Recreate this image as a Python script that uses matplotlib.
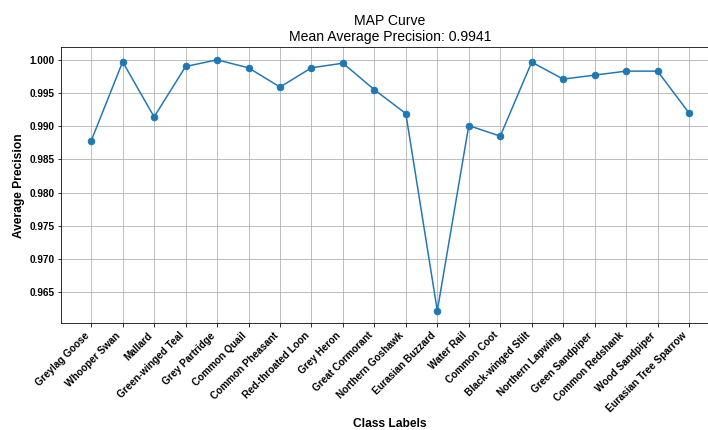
import numpy as np
import matplotlib.pyplot as plt

plt.rcParams['font.family'] = ['Liberation Sans', 'DejaVu Sans']

# class names and their average precision values
classes = ['Greylag Goose', 'Whooper Swan', 'Mallard', 'Green-winged Teal',
           'Grey Partridge', 'Common Quail', 'Common Pheasant', 'Red-throated Loon',
           'Grey Heron', 'Great Cormorant', 'Northern Goshawk', 'Eurasian Buzzard',
           'Water Rail', 'Common Coot', 'Black-winged Stilt', 'Northern Lapwing',
           'Green Sandpiper', 'Common Redshank', 'Wood Sandpiper', 'Eurasian Tree Sparrow']
ap = [0.9878, 0.9997, 0.9914, 0.9990, 1.0000, 0.9988, 0.9959, 0.9988,
      0.9995, 0.9955, 0.9919, 0.9622, 0.9901, 0.9885, 0.99965, 0.9971,
      0.9977, 0.9983, 0.9983, 0.9920]
mean_ap = 0.9941

fig = plt.figure(figsize=(708 / 72, 430 / 72), dpi=72)
ax = fig.add_axes([0.0866, 0.2481, 0.9288, 0.6419])

ax.plot(classes, ap, marker='o', markersize=6.5, linewidth=1.5, color='#1f77b4')
ax.set_title(f'MAP Curve\nMean Average Precision: {mean_ap:.4f}', fontsize=14)
ax.set_xlabel('Class Labels', fontsize=12, fontweight='bold', labelpad=4)
ax.set_ylabel('Average Precision', fontsize=12, fontweight='bold')

plt.setp(ax.get_xticklabels(), rotation=45, ha='right', fontweight='bold', fontsize=10)
plt.setp(ax.get_yticklabels(), fontweight='bold', fontsize=10)
ax.yaxis.set_major_formatter(plt.FormatStrFormatter('%.3f'))
ax.grid(True)

fig.savefig('out.png', dpi=72)
